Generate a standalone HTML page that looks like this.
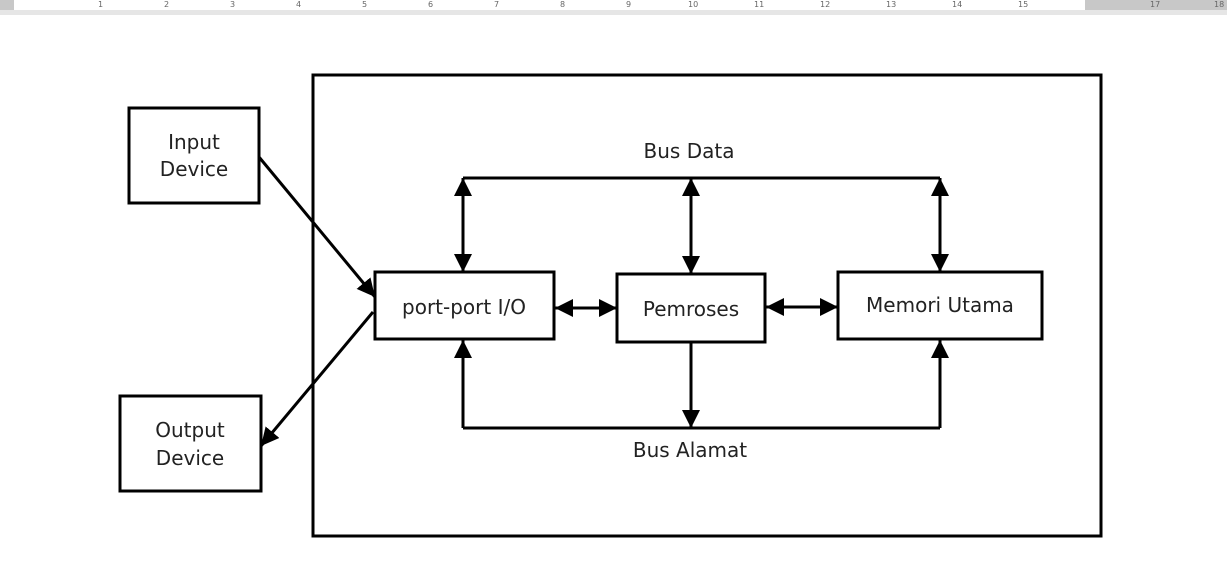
<!DOCTYPE html>
<html><head><style>
html,body{margin:0;padding:0;background:#fff;width:1227px;height:578px;overflow:hidden}
svg text{font-family:"DejaVu Sans","Liberation Sans",sans-serif;font-size:20px;fill:#222}
</style></head><body>
<svg width="1227" height="578" xmlns="http://www.w3.org/2000/svg">
<defs>
<marker id="a" viewBox="0 0 10 10" refX="10" refY="5" markerWidth="18" markerHeight="18" markerUnits="userSpaceOnUse" orient="auto-start-reverse">
<path d="M0,0 L10,5 L0,10 z" fill="#000"/></marker>
</defs>
<style>.m{marker-end:url(#a)}</style>
<rect x="0" y="0" width="1227" height="10" fill="#c8c8c8"/>
<rect x="14" y="0" width="1071" height="10" fill="#fff"/>
<rect x="0" y="10" width="1227" height="5" fill="#e6e6e6"/>
<g>
<text x="98" y="7" style="font-size:8px;fill:#666">1</text><text x="164" y="7" style="font-size:8px;fill:#666">2</text><text x="230" y="7" style="font-size:8px;fill:#666">3</text><text x="296" y="7" style="font-size:8px;fill:#666">4</text><text x="362" y="7" style="font-size:8px;fill:#666">5</text><text x="428" y="7" style="font-size:8px;fill:#666">6</text><text x="494" y="7" style="font-size:8px;fill:#666">7</text><text x="560" y="7" style="font-size:8px;fill:#666">8</text><text x="626" y="7" style="font-size:8px;fill:#666">9</text><text x="688" y="7" style="font-size:8px;fill:#666">10</text><text x="754" y="7" style="font-size:8px;fill:#666">11</text><text x="820" y="7" style="font-size:8px;fill:#666">12</text><text x="886" y="7" style="font-size:8px;fill:#666">13</text><text x="952" y="7" style="font-size:8px;fill:#666">14</text><text x="1018" y="7" style="font-size:8px;fill:#666">15</text><text x="1150" y="7" style="font-size:8px;fill:#666">17</text><text x="1214" y="7" style="font-size:8px;fill:#666">18</text>
</g>
<g fill="none" stroke="#000" stroke-width="3">
<rect x="313" y="75" width="788" height="461"/>
<rect x="129" y="108" width="130" height="95"/>
<rect x="120" y="396" width="141" height="95"/>
<rect x="375" y="272" width="179" height="67"/>
<rect x="617" y="274" width="148" height="68"/>
<rect x="838" y="272" width="204" height="67"/>
<polyline points="463,178 940,178"/>
<polyline points="463,428 940,428"/>
<line x1="463" y1="178" x2="463" y2="272" class="m" style="marker-start:url(#a)"/>
<line x1="691" y1="178" x2="691" y2="274" class="m" style="marker-start:url(#a)"/>
<line x1="940" y1="178" x2="940" y2="272" class="m" style="marker-start:url(#a)"/>
<line x1="463" y1="428" x2="463" y2="340" class="m"/>
<line x1="940" y1="428" x2="940" y2="340" class="m"/>
<line x1="691" y1="342" x2="691" y2="428" class="m"/>
<line x1="555" y1="308" x2="617" y2="308" class="m" style="marker-start:url(#a)"/>
<line x1="766" y1="307" x2="838" y2="307" class="m" style="marker-start:url(#a)"/>
<line x1="259" y1="157" x2="375" y2="297" class="m"/>
<line x1="373" y1="312" x2="261" y2="446" class="m"/>
</g>
<text x="194" y="149" text-anchor="middle">Input</text>
<text x="194" y="176" text-anchor="middle">Device</text>
<text x="190" y="437" text-anchor="middle">Output</text>
<text x="190" y="465" text-anchor="middle">Device</text>
<text x="464" y="314" text-anchor="middle">port-port I/O</text>
<text x="691" y="316" text-anchor="middle">Pemroses</text>
<text x="940" y="312" text-anchor="middle">Memori Utama</text>
<text x="689" y="158" text-anchor="middle">Bus Data</text>
<text x="690" y="457" text-anchor="middle">Bus Alamat</text>
</svg>
</body></html>
